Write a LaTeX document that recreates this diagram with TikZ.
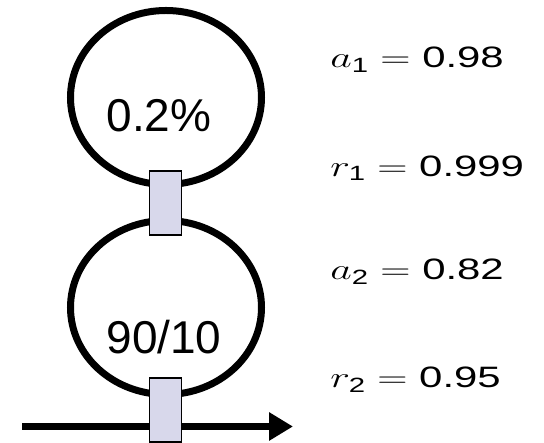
\RequirePackage{fix-cm}
\documentclass[tikz,border=0pt]{standalone}
\usepackage{amsmath}
\usepackage{fontspec}
\setmainfont{Liberation Sans}
\usetikzlibrary{arrows.meta,positioning,shapes.geometric}
\definecolor{coupler}{HTML}{D8D8EB}
\tikzset{
  ring/.style={draw, ellipse, line width=7pt, inner sep=0pt,
    minimum width=191pt, minimum height=174pt},
  couplerbox/.style={draw, line width=1.8pt, fill=coupler, inner sep=0pt,
    minimum width=32pt, minimum height=64pt},
  ringlabel/.style={font=\fontsize{46pt}{50pt}\selectfont},
  param/.style={anchor=base west, inner sep=0pt, xscale=1.42, transform shape,
    font=\fontsize{29.5pt}{33pt}\selectfont},
  busarr/.style={-{Triangle[length=24pt,width=27pt]}, line width=7pt}
}

\begin{document}
\begin{tikzpicture}[x=1pt,y=1pt]
    \useasboundingbox (0,0) rectangle (544,443);
    % rings
    \node[ring] (r1) at (166,345.5) {};
    \node[ring] (r2) at (166,135.5) {};
    \node[ringlabel] (l1) at (159,327) {0.2\%};
    \node[ringlabel] (l2) at (164,105.5) {90/10};
    % bus waveguide
    \coordinate (in) at (22,16.5);
    \coordinate (out) at (293,16.5);
    \draw[busarr] (in) -- (out);
    % couplers
    \node[couplerbox] (c1) at (165.5,240) {};
    \node[couplerbox] (c2) at (165.5,33) {};
    % parameters
    \node[param] (a1) at (330,375) {$a_{\text{1}} = \text{0.98}$};
    \node[param] (p1) at (330,266.5) {$r_{\text{1}} = \text{0.999}$};
    \node[param] (a2) at (330,163) {$a_{\text{2}} = \text{0.82}$};
    \node[param] (p2) at (330,55) {$r_{\text{2}} = \text{0.95}$};
\end{tikzpicture}
\end{document}
